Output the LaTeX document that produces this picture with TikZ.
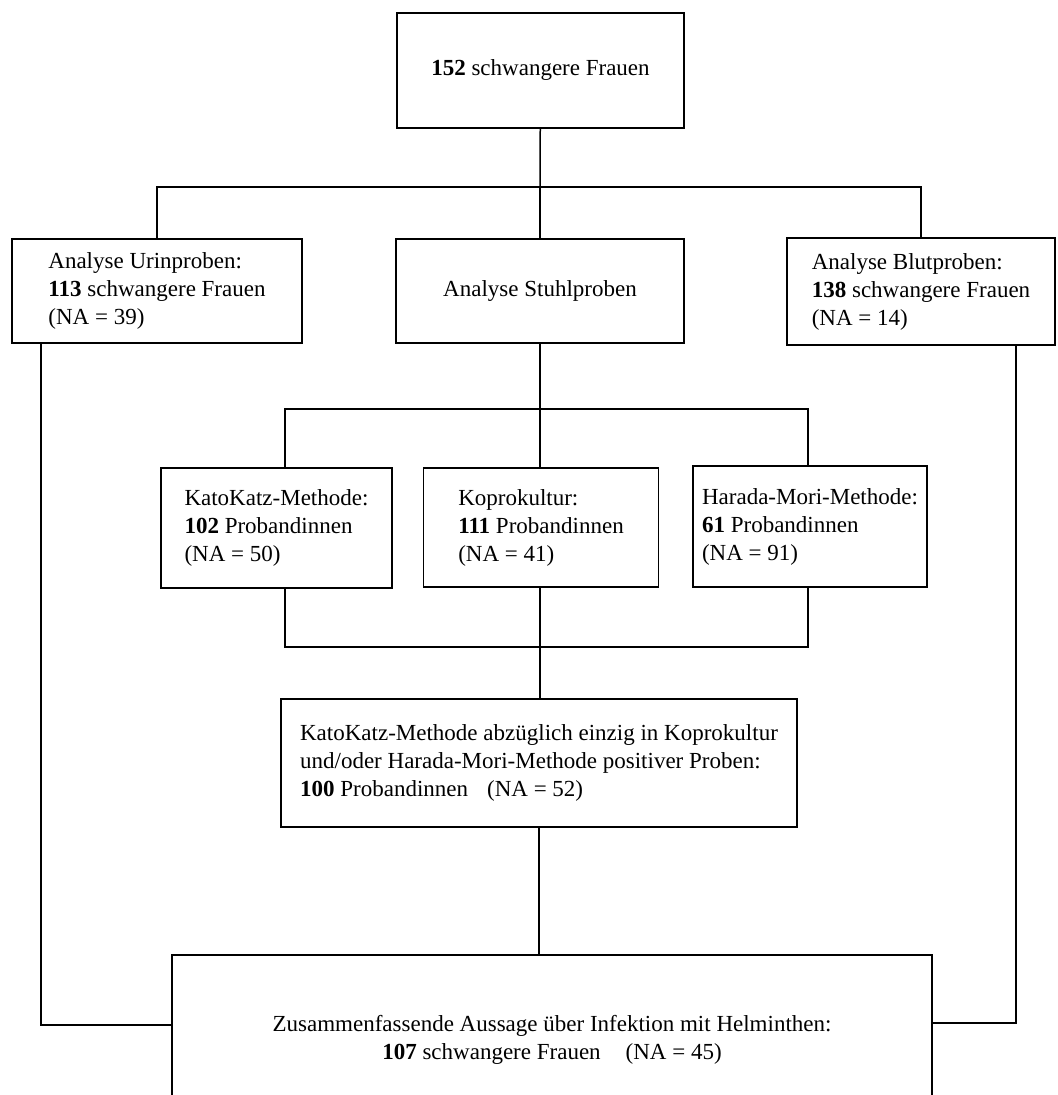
\documentclass[tikz,border=0pt]{standalone}
\usepackage{fontspec}
\setmainfont{Liberation Serif}
\begin{document}
\begin{tikzpicture}[x=0.5pt,y=-0.5pt,
  box/.style={draw,line width=0.75pt,align=left,inner sep=0pt,font=\fontsize{11.5}{14}\selectfont},
  link/.style={line width=0.75pt}]
\useasboundingbox (0,0) rectangle (1057,1095);
\node[box,minimum width=143.5pt,minimum height=57.5pt](start) at (540.5,70.5){\textbf{152} schwangere Frauen};
\node[box,minimum width=145pt,minimum height=52pt](urin) at (157,291){Analyse Urinproben:\\\textbf{113} schwangere Frauen\\(NA = 39)};
\node[box,minimum width=144pt,minimum height=52pt](stuhl) at (540,291){Analyse Stuhlproben};
\node[box,minimum width=134pt,minimum height=53.5pt](blut) at (921,291.5){Analyse Blutproben:\\\textbf{138} schwangere Frauen\\(NA = 14)};
\node[box,minimum width=115.5pt,minimum height=60pt](kato) at (276.5,528){KatoKatz-Methode:\\\textbf{102} Probandinnen\\(NA = 50)};
\node[box,minimum width=117.5pt,minimum height=59.5pt](kopro) at (541,527.5){Koprokultur:\\\textbf{111} Probandinnen\\(NA = 41)};
\node[box,minimum width=117pt,minimum height=60.5pt](harada) at (810,526.5){Harada-Mori-Methode:\\\textbf{61} Probandinnen\\(NA = 91)};
\node[box,minimum width=258pt,minimum height=64pt](kombi) at (539,763){KatoKatz-Methode abzüglich einzig in Koprokultur\\und/oder Harada-Mori-Methode positiver Proben:\\\textbf{100} Probandinnen\hspace{9.5pt}(NA = 52)};
\node[box,align=center,minimum width=380pt,minimum height=85pt](summe) at (552,1040){Zusammenfassende Aussage über Infektion mit Helminthen:\\\textbf{107} schwangere Frauen\hspace{12.5pt}(NA = 45)};
\coordinate (split1) at (540,187);
\coordinate (split2) at (540,409);
\coordinate (katotop) at (285,409);
\coordinate (haradatop) at (808,409);
\coordinate (join) at (540,647);
\coordinate (katobot) at (285,647);
\coordinate (haradabot) at (808,647);
\coordinate (urinbot) at (41,1025);
\coordinate (blutbot) at (1016,1023);
\draw[link](start)--(split1);
\draw[link](urin.north)|-(split1)-|(blut.north);
\draw[link](split1)--(stuhl);
\draw[link](stuhl)--(split2);
\draw[link](kato.north -| katotop)--(katotop)--(haradatop)--(harada.north -| haradatop);
\draw[link](split2)--(kopro.north -| split2);
\draw[link](kato.south -| katobot)--(katobot)--(haradabot)--(harada.south -| haradabot);
\draw[link](kopro.south -| join)--(kombi.north -| join);
\draw[link](kombi.south)--(kombi.south |- summe.north);
\draw[link](urin.south -| urinbot)--(urinbot)--(urinbot -| summe.west);
\draw[link](blut.south -| blutbot)--(blutbot)--(blutbot -| summe.east);
\end{tikzpicture}
\end{document}
